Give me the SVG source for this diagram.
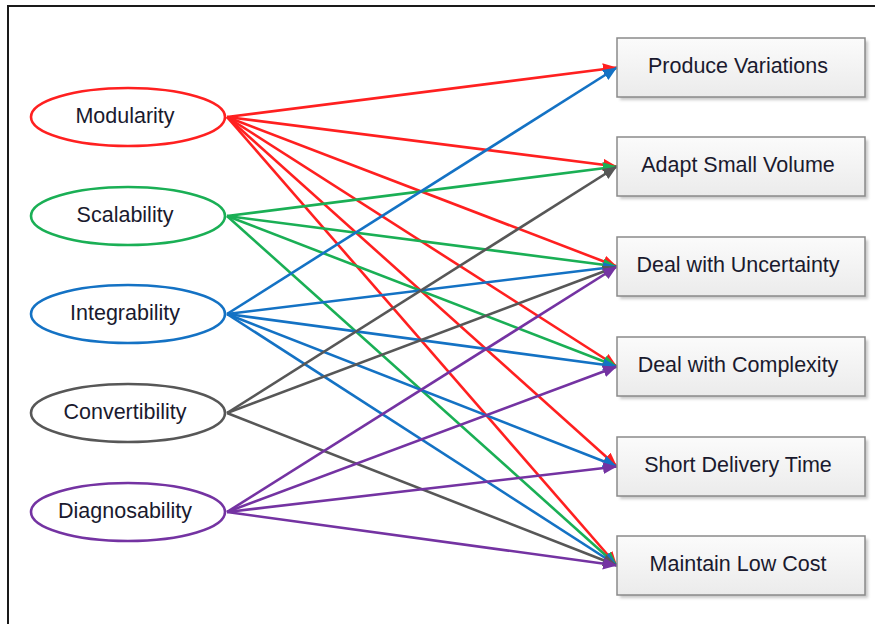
<svg xmlns="http://www.w3.org/2000/svg" width="875" height="624" viewBox="0 0 875 624">
  <style>
    .frame { fill: none; stroke: #1a1a1a; stroke-width: 2; }
    .cap ellipse { fill: #ffffff; stroke-width: 2.6; }
    .goal rect.body { fill: url(#boxFill); stroke: #8a8a8a; stroke-width: 1.5; }
    .goal rect.shadow { fill: #c8c8c8; filter: url(#soft); }
    text { font-family: "Liberation Sans", Arial, sans-serif; font-size: 21.5px; fill: #1a1a2e; text-anchor: middle; }
    .links line { stroke-width: 2.6; fill: none; }
    .red line { stroke: #ff2020; marker-end: url(#arrRed); }
    .green line { stroke: #1aaf55; marker-end: url(#arrGreen); }
    .blue line { stroke: #1472c4; marker-end: url(#arrBlue); }
    .gray line { stroke: #575757; marker-end: url(#arrGray); }
    .purple line { stroke: #7433a2; marker-end: url(#arrPurple); }
  </style>
  <defs>
    <linearGradient id="boxFill" x1="0" y1="0" x2="0" y2="1">
      <stop offset="0" stop-color="#fbfbfb"/>
      <stop offset="1" stop-color="#ebebeb"/>
    </linearGradient>
    <filter id="soft" x="-10%" y="-20%" width="120%" height="140%">
      <feGaussianBlur stdDeviation="1.5"/>
    </filter>
    <marker id="arrRed" markerUnits="userSpaceOnUse" markerWidth="16" markerHeight="14" refX="14" refY="6" orient="auto"><path d="M0,0 L14,6 L0,12 Z" fill="#ff2020"/></marker>
    <marker id="arrGreen" markerUnits="userSpaceOnUse" markerWidth="16" markerHeight="14" refX="14" refY="6" orient="auto"><path d="M0,0 L14,6 L0,12 Z" fill="#1aaf55"/></marker>
    <marker id="arrBlue" markerUnits="userSpaceOnUse" markerWidth="16" markerHeight="14" refX="14" refY="6" orient="auto"><path d="M0,0 L14,6 L0,12 Z" fill="#1472c4"/></marker>
    <marker id="arrGray" markerUnits="userSpaceOnUse" markerWidth="16" markerHeight="14" refX="14" refY="6" orient="auto"><path d="M0,0 L14,6 L0,12 Z" fill="#575757"/></marker>
    <marker id="arrPurple" markerUnits="userSpaceOnUse" markerWidth="16" markerHeight="14" refX="14" refY="6" orient="auto"><path d="M0,0 L14,6 L0,12 Z" fill="#7433a2"/></marker>
  </defs>

  <rect width="875" height="624" fill="#ffffff"/>
  <path class="frame" d="M8,624 L8,6 L875,6"/>

  <!-- capability -> objective links -->
  <g id="connectors" class="links">
    <g class="red">
      <line x1="227" y1="117" x2="617" y2="67.5"/>
      <line x1="227" y1="117" x2="617" y2="166.5"/>
      <line x1="227" y1="117" x2="617" y2="266.5"/>
      <line x1="227" y1="117" x2="617" y2="366.5"/>
      <line x1="227" y1="117" x2="617" y2="466.5"/>
      <line x1="227" y1="117" x2="617" y2="565.5"/>
    </g>
    <g class="green">
      <line x1="227" y1="216" x2="617" y2="166.5"/>
      <line x1="227" y1="216" x2="617" y2="266.5"/>
      <line x1="227" y1="216" x2="617" y2="366.5"/>
      <line x1="227" y1="216" x2="617" y2="565.5"/>
    </g>
    <g class="blue">
      <line x1="227" y1="314" x2="617" y2="67.5"/>
      <line x1="227" y1="314" x2="617" y2="266.5"/>
      <line x1="227" y1="314" x2="617" y2="366.5"/>
      <line x1="227" y1="314" x2="617" y2="466.5"/>
      <line x1="227" y1="314" x2="617" y2="565.5"/>
    </g>
    <g class="gray">
      <line x1="227" y1="413" x2="617" y2="166.5"/>
      <line x1="227" y1="413" x2="617" y2="266.5"/>
      <line x1="227" y1="413" x2="617" y2="565.5"/>
    </g>
    <g class="purple">
      <line x1="227" y1="512" x2="617" y2="266.5"/>
      <line x1="227" y1="512" x2="617" y2="366.5"/>
      <line x1="227" y1="512" x2="617" y2="466.5"/>
      <line x1="227" y1="512" x2="617" y2="565.5"/>
    </g>
  </g>

  <!-- capabilities -->
  <g id="modularity" class="cap"><ellipse cx="128" cy="117" rx="97" ry="29" stroke="#ff2020"/><text x="125" y="122.5">Modularity</text></g>
  <g id="scalability" class="cap"><ellipse cx="128" cy="216" rx="97" ry="29" stroke="#1aaf55"/><text x="125" y="221.5">Scalability</text></g>
  <g id="integrability" class="cap"><ellipse cx="128" cy="314" rx="97" ry="29" stroke="#1472c4"/><text x="125" y="319.5">Integrability</text></g>
  <g id="convertibility" class="cap"><ellipse cx="128" cy="413" rx="97" ry="29" stroke="#575757"/><text x="125" y="418.5">Convertibility</text></g>
  <g id="diagnosability" class="cap"><ellipse cx="128" cy="512" rx="97" ry="29" stroke="#7433a2"/><text x="125" y="517.5">Diagnosability</text></g>

  <!-- objectives -->
  <g id="produce-variations" class="goal"><rect class="shadow" x="620" y="41" width="248" height="59"/><rect class="body" x="617" y="38" width="248" height="59"/><text x="738" y="73">Produce Variations</text></g>
  <g id="adapt-small-volume" class="goal"><rect class="shadow" x="620" y="140" width="248" height="59"/><rect class="body" x="617" y="137" width="248" height="59"/><text x="738" y="172">Adapt Small Volume</text></g>
  <g id="deal-uncertainty" class="goal"><rect class="shadow" x="620" y="240" width="248" height="59"/><rect class="body" x="617" y="237" width="248" height="59"/><text x="738" y="272">Deal with Uncertainty</text></g>
  <g id="deal-complexity" class="goal"><rect class="shadow" x="620" y="340" width="248" height="59"/><rect class="body" x="617" y="337" width="248" height="59"/><text x="738" y="372">Deal with Complexity</text></g>
  <g id="short-delivery" class="goal"><rect class="shadow" x="620" y="440" width="248" height="59"/><rect class="body" x="617" y="437" width="248" height="59"/><text x="738" y="472">Short Delivery Time</text></g>
  <g id="low-cost" class="goal"><rect class="shadow" x="620" y="539" width="248" height="59"/><rect class="body" x="617" y="536" width="248" height="59"/><text x="738" y="571">Maintain Low Cost</text></g>
</svg>
